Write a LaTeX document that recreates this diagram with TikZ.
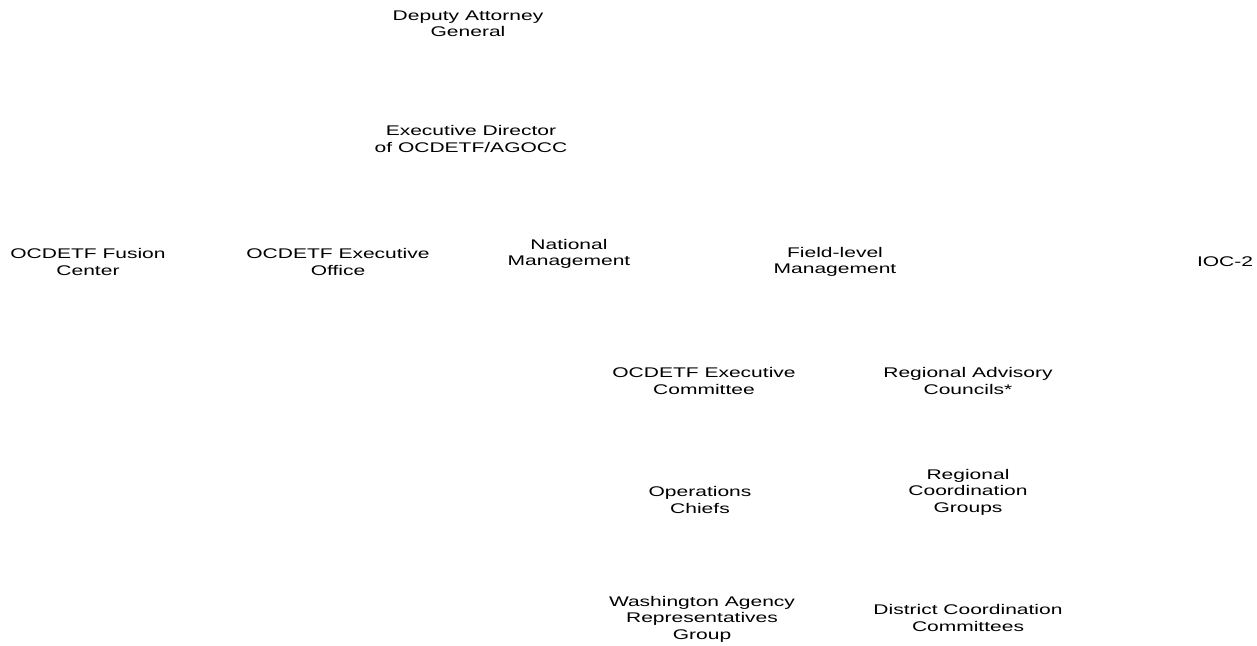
\documentclass[tikz,border=0pt]{standalone}
\usepackage{fontspec}
\setmainfont[FakeStretch=1.5]{Liberation Sans}
\usetikzlibrary{positioning}

\begin{document}
\begin{tikzpicture}[x=1pt, y=-1pt,
  lbl/.style={align=center, inner sep=0pt, font=\fontsize{14}{16.5}\selectfont}]
  \useasboundingbox (0,0) rectangle (1257,645);
  % top of the chain
  \node[lbl] (dag) at (468,24) {Deputy Attorney\\General};
  \node[lbl] (exdir) at (471,139) {Executive Director\\of OCDETF/AGOCC};
  % middle row
  \node[lbl] (fusion) at (88,262) {OCDETF Fusion\\Center};
  \node[lbl] (exoff) at (338,262) {OCDETF Executive\\Office};
  \node[lbl] (natmgmt) at (569,254) {National\\Management};
  \node[lbl] (fieldmgmt) at (835,262) {Field-level\\Management};
  \node[lbl] (ioc) at (1225,262) {IOC-2};
  % national side
  \node[lbl] (excomm) at (704,381) {OCDETF Executive\\Committee};
  \node[lbl] (opchiefs) at (700,500) {Operations\\Chiefs};
  \node[lbl] (warg) at (702,619) {Washington Agency\\Representatives\\Group};
  % field side
  \node[lbl] (rac) at (968,381) {Regional Advisory\\Councils*};
  \node[lbl] (rcg) at (968,492) {Regional\\Coordination\\Groups};
  \node[lbl] (dcc) at (968,618) {District Coordination\\Committees};
\end{tikzpicture}
\end{document}
